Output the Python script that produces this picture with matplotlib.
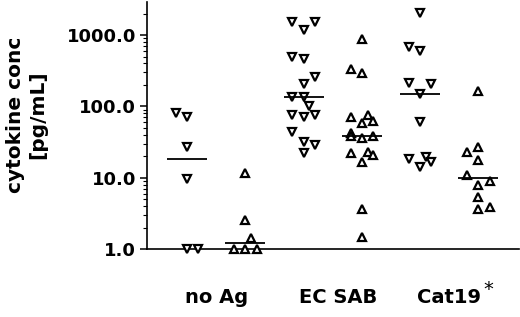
import matplotlib
matplotlib.use("Agg")
import matplotlib.pyplot as plt
from matplotlib.ticker import FixedLocator, FuncFormatter, LogLocator, NullFormatter
import numpy as np

plt.rcParams['font.family'] = ['DejaVu Sans']
plt.rcParams['font.weight'] = 'bold'

# group labels (pairs of columns)
group_labels = ["no Ag", "EC SAB", "Cat19"]
ytick_values = [1, 10, 100, 1000]

# values per column (pg/mL); "down" = downward triangles, "up" = upward triangles
noag_down = [82, 70, 27, 9.5, 1.0, 1.0]
noag_down_slot = [-2, 0, 0, 0, 0, 2]
noag_up = [11.7, 2.55, 1.41, 1.0, 1.0, 1.0]
noag_up_slot = [0, 0, 1, -2, 0, 2]

ecsab_down = [1545, 1180, 1545, 497, 458, 256, 204, 137, 134, 101, 76, 70, 76, 44, 32, 28.8, 22]
ecsab_down_slot = [-2, 0, 2, -2, 0, 2, 0, -2, 0, 1, -2, 0, 2, -2, 0, 2, 0]
ecsab_up = [872, 334, 290, 72, 76, 58, 63, 42, 38, 36, 38.5, 22, 23, 21, 16.8, 3.6, 1.49]
ecsab_up_slot = [0, -2, 0, -2, 1, 0, 2, -2, -2, 0, 2, -2, 1, 2, 0, 0, 0]

cat19_down = [2020, 690, 600, 210, 206, 149, 61, 18.1, 19.3, 14.3, 16.8]
cat19_down_slot = [0, -2, 0, -2, 2, 0, 0, -2, 1, 0, 2]
cat19_up = [166, 22.7, 27, 17.7, 10.9, 7.9, 9.1, 5.3, 3.6, 3.85]
cat19_up_slot = [0, -2, 0, 0, -2, 0, 2, 0, 0, 2]

columns = [
    (noag_down, noag_down_slot, 'v'),
    (noag_up, noag_up_slot, '^'),
    (ecsab_down, ecsab_down_slot, 'v'),
    (ecsab_up, ecsab_up_slot, '^'),
    (cat19_down, cat19_down_slot, 'v'),
    (cat19_up, cat19_up_slot, '^'),
]

fig = plt.figure(figsize=(5.2, 3.17), dpi=100)
ax = fig.add_axes([147/520, 1-249/317, (519-147)/520, (249-1.7)/317])

slot_w = 0.097
for i, (vals, slots, mk) in enumerate(columns):
    xs = i + np.array(slots) * slot_w
    ax.plot(xs, vals, linestyle='none', marker=mk, markersize=5.6,
            markerfacecolor='white', markeredgecolor='black', markeredgewidth=1.6,
            clip_on=False, zorder=3)
    med = np.median(vals)
    ax.plot([i - 0.343, i + 0.343], [med, med], color='black', lw=1.3, zorder=4,
            solid_capstyle='butt', clip_on=False)

ax.set_yscale('log')
ax.set_ylim(1, 2940)
ax.set_xlim(-0.686, 5.695)

ax.yaxis.set_major_locator(FixedLocator(ytick_values))
ax.yaxis.set_major_formatter(FuncFormatter(lambda v, p: f"{v:.1f}"))
ax.yaxis.set_minor_locator(LogLocator(base=10, subs=np.arange(2, 10)))
ax.yaxis.set_minor_formatter(NullFormatter())
ax.tick_params(axis='y', which='major', length=5, width=1.1, labelsize=13, pad=3)
ax.tick_params(axis='y', which='minor', length=3, width=0.8)

ax.set_xticks([0.5, 2.6, 4.5])
ax.set_xticklabels(group_labels, fontsize=14, fontweight='bold')
ax.tick_params(axis='x', length=0, pad=28)

for s in ['top', 'right']:
    ax.spines[s].set_visible(False)
for s in ['left', 'bottom']:
    ax.spines[s].set_linewidth(1.2)

fig.text(488/520, 1-290/317, "*", fontsize=14, fontweight='normal', ha='center', va='center')
fig.text(27/520, 1-115/317, "cytokine conc\n[pg/mL]", rotation=90, fontsize=14.5,
         fontweight='bold', ha='center', va='center', multialignment='center', linespacing=1.2)

fig.savefig("out.png", dpi=100)
